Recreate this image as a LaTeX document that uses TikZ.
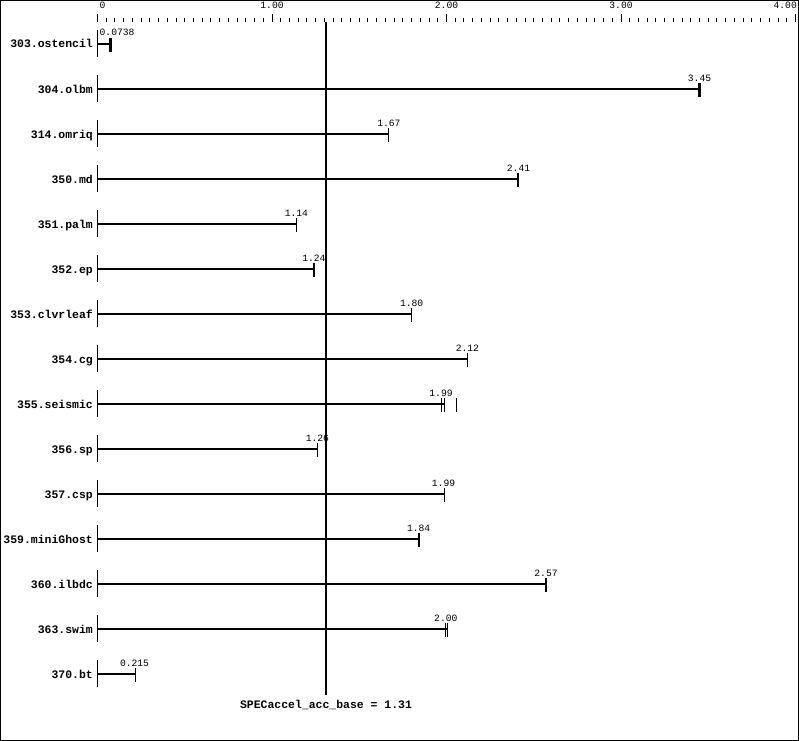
\documentclass[tikz,border=0pt]{standalone}
\usepackage{fontspec}
\setmonofont{Liberation Mono}
\begin{document}
\begin{tikzpicture}[x=1bp,y=-1bp,
  rowlabel/.style={font=\ttfamily\bfseries\fontsize{11.5}{12}\selectfont, anchor=base east, inner sep=0pt},
  vallabel/.style={font=\ttfamily\fontsize{9.7}{10}\selectfont, anchor=base, inner sep=0pt},
  axlabel/.style={font=\ttfamily\fontsize{9.7}{10}\selectfont, anchor=base, inner sep=0pt},
  barline/.style={line width=2bp},
  medtick/.style={line width=2.2bp},
  runtick/.style={line width=1bp},
  rowmark/.style={line width=1bp},
  baseline/.style={line width=2bp}]
\useasboundingbox (0,0) rectangle (799,741);
\draw[line width=1.2bp] (0.6,0.6) rectangle (798.4,740.4);
% axis ticks
\foreach \i in {0,...,80}{
  \pgfmathsetmacro{\xx}{97.5+\i*8.725}
  \pgfmathtruncatemacro{\m}{mod(\i,20)}
  \ifnum\m=0
    \draw[line width=1bp] (\xx,14) -- (\xx,22);
  \else
    \draw[line width=1bp] (\xx,18) -- (\xx,22);
  \fi
}
\node[axlabel, anchor=base west] (ax0) at (99.5,9) {0};
\node[axlabel] (ax1) at (272,9) {1.00};
\node[axlabel] (ax2) at (446.5,9) {2.00};
\node[axlabel] (ax3) at (621,9) {3.00};
\node[axlabel, anchor=base east] (ax4) at (797,9) {4.00};
% baseline
\coordinate (bltop) at (326.1,22);
\coordinate (blbot) at (326.1,695);
\draw[baseline] (bltop) -- (blbot);
\node[font=\ttfamily\bfseries\fontsize{11.5}{12}\selectfont, anchor=base, inner sep=0pt] (bllabel) at (326,708) {SPECaccel\_acc\_base = 1.31};
% rows: index / label / value text / median x / thick(1) or thin(0) / extra ticks / label x
\foreach \k/\name/\val/\xm/\thk/\extra/\lx in {
  0/303.ostencil/0.0738/110.4/1/{}/-1,
  1/304.olbm/3.45/699.5/1/{}/699.5,
  2/314.omriq/1.67/388.9/0/{}/388.9,
  3/350.md/2.41/518.0/1/{}/518.5,
  4/351.palm/1.14/296.4/0/{}/296.4,
  5/352.ep/1.24/313.9/1/{}/313.9,
  6/353.clvrleaf/1.80/411.6/0/{}/411.6,
  7/354.cg/2.12/467.4/0/{}/467.4,
  8/355.seismic/1.99/444.3/0/{441.8,456.5}/441.0,
  9/356.sp/1.26/317.4/0/{}/317.4,
  10/357.csp/1.99/444.3/0/{}/443.5,
  11/359.miniGhost/1.84/418.6/1/{}/418.6,
  12/360.ilbdc/2.57/546.0/1/{}/546.0,
  13/363.swim/2.00/447.3/0/{445.3}/445.8,
  14/370.bt/0.215/135.0/0/{}/134.5}{
  \pgfmathsetmacro{\yy}{44+45*\k}
  \node[rowlabel] (lab\k) at (93,\yy+4) {\name};
  \coordinate (start\k) at (97.5,\yy);
  \coordinate (end\k) at (\xm,\yy);
  \draw[rowmark] (97.5,\yy-14) -- (97.5,\yy+13);
  \draw[barline] (start\k) -- (end\k);
  \ifnum\thk=1
    \draw[medtick] (\xm,\yy-6) -- (\xm,\yy+8);
  \else
    \draw[runtick] (\xm,\yy-6) -- (\xm,\yy+8);
  \fi
  \foreach \e in \extra {\draw[runtick] (\e,\yy-6) -- (\e,\yy+8);}
  \ifdim\lx pt<0pt
    \node[vallabel, anchor=base west] (val\k) at (99.5,\yy-8) {\val};
  \else
    \node[vallabel] (val\k) at (\lx,\yy-8) {\val};
  \fi
}
\end{tikzpicture}
\end{document}
